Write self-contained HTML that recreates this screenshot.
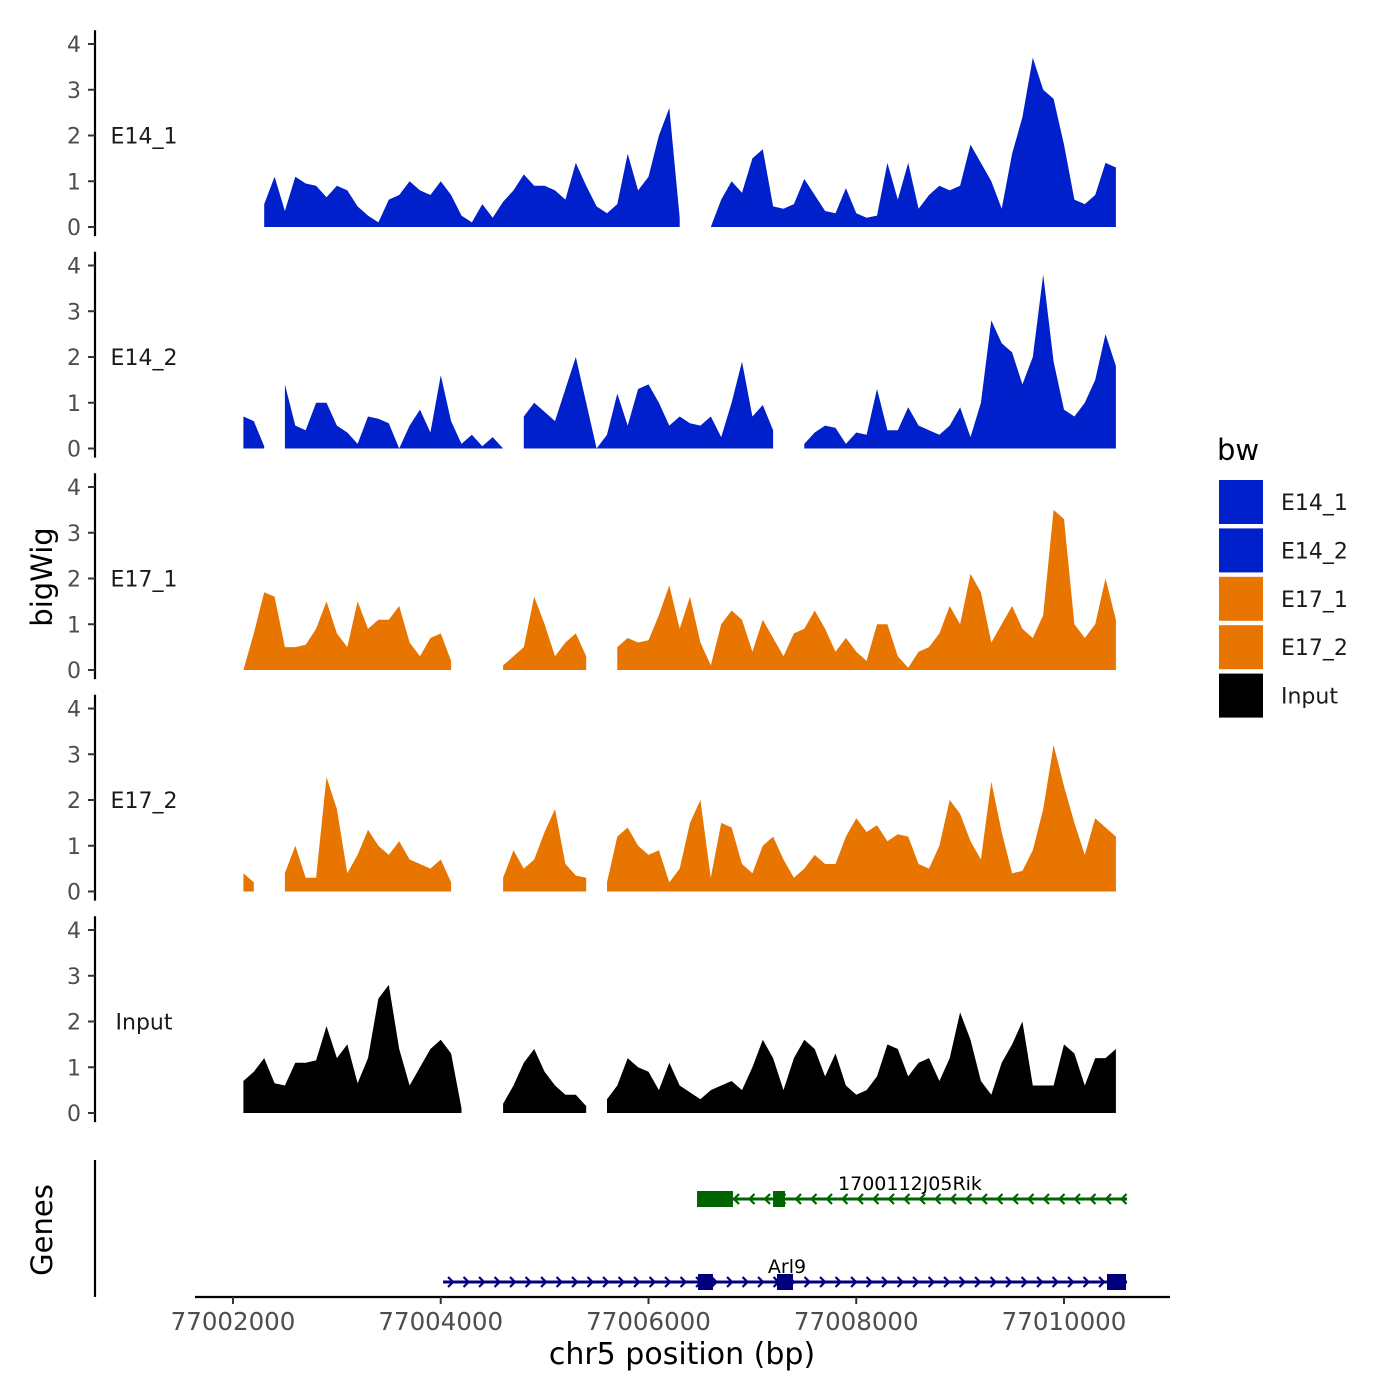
<!DOCTYPE html>
<html><head><meta charset="utf-8"><style>
body{margin:0;background:#fff}
svg{display:block;font-family:"DejaVu Sans","Liberation Sans",sans-serif}
</style></head><body>
<svg id="chart" width="1400" height="1400" viewBox="0 0 1400 1400" xmlns="http://www.w3.org/2000/svg"></svg>
<script>
const binStart = 77002100, binSize = 100;
const trackNames = ["E14_1","E14_2","E17_1","E17_2","Input"];
const trackColors = ["#0020CC","#0020CC","#E87500","#E87500","#000000"];
const yTicks = [0,1,2,3,4];
const xTicks = [77002000,77004000,77006000,77008000,77010000];
const N = null;
const E14_1 = [0.2,N,0.5,1.1,0.35,1.1,0.95,0.9,0.65,0.9,0.8,0.45,0.25,0.1,0.6,0.7,1.0,0.8,0.7,1.0,0.7,0.25,0.1,0.5,0.2,0.55,0.8,1.15,0.9,0.9,0.8,0.6,1.4,0.9,0.45,0.3,0.5,1.6,0.8,1.1,2.0,2.6,0.2,N,N,0.0,0.6,1.0,0.75,1.5,1.7,0.45,0.4,0.5,1.05,0.7,0.35,0.3,0.85,0.3,0.2,0.25,1.4,0.6,1.4,0.4,0.7,0.9,0.8,0.9,1.8,1.4,1.0,0.4,1.6,2.4,3.7,3.0,2.8,1.8,0.6,0.5,0.7,1.4,1.3];
const E14_2 = [0.7,0.6,0.05,N,1.4,0.5,0.4,1.0,1.0,0.5,0.35,0.1,0.7,0.65,0.55,0.0,0.5,0.85,0.35,1.6,0.6,0.1,0.3,0.05,0.25,0.0,N,0.7,1.0,0.8,0.6,1.3,2.0,1.0,0.0,0.3,1.2,0.5,1.3,1.4,1.0,0.5,0.7,0.55,0.5,0.7,0.25,1.0,1.9,0.7,0.95,0.4,N,N,0.1,0.35,0.5,0.45,0.1,0.35,0.3,1.3,0.4,0.4,0.9,0.5,0.4,0.3,0.5,0.9,0.25,1.0,2.8,2.3,2.1,1.4,2.0,3.8,1.9,0.85,0.7,1.0,1.5,2.5,1.8];
const E17_1 = [0.0,0.8,1.7,1.6,0.5,0.5,0.55,0.9,1.5,0.8,0.5,1.5,0.9,1.1,1.1,1.4,0.6,0.3,0.7,0.8,0.2,N,N,N,N,0.1,0.3,0.5,1.6,1.0,0.3,0.6,0.8,0.3,N,N,0.5,0.7,0.6,0.65,1.2,1.85,0.9,1.6,0.6,0.1,1.0,1.3,1.1,0.4,1.1,0.7,0.3,0.8,0.9,1.3,0.9,0.4,0.7,0.4,0.2,1.0,1.0,0.3,0.05,0.4,0.5,0.8,1.4,1.0,2.1,1.7,0.6,1.0,1.4,0.9,0.7,1.2,3.5,3.3,1.0,0.7,1.0,2.0,1.1];
const E17_2 = [0.4,0.2,N,N,0.4,1.0,0.3,0.3,2.5,1.8,0.4,0.8,1.35,1.0,0.8,1.1,0.7,0.6,0.5,0.7,0.2,N,N,N,N,0.3,0.9,0.5,0.7,1.3,1.8,0.6,0.35,0.3,N,0.2,1.2,1.4,1.0,0.8,0.9,0.2,0.5,1.5,2.0,0.3,1.5,1.4,0.6,0.4,1.0,1.2,0.7,0.3,0.5,0.8,0.6,0.6,1.2,1.6,1.3,1.45,1.1,1.25,1.2,0.6,0.5,1.0,2.0,1.7,1.1,0.7,2.4,1.3,0.4,0.45,0.9,1.8,3.2,2.3,1.5,0.8,1.6,1.4,1.2];
const Input = [0.7,0.9,1.2,0.65,0.6,1.1,1.1,1.15,1.9,1.2,1.5,0.65,1.2,2.5,2.8,1.4,0.6,1.0,1.4,1.6,1.3,0.1,N,N,N,0.2,0.6,1.1,1.4,0.9,0.6,0.4,0.4,0.15,N,0.3,0.6,1.2,1.0,0.9,0.5,1.1,0.6,0.45,0.3,0.5,0.6,0.7,0.5,1.0,1.6,1.2,0.5,1.2,1.6,1.4,0.8,1.3,0.6,0.4,0.5,0.8,1.5,1.4,0.8,1.1,1.2,0.7,1.2,2.2,1.6,0.7,0.4,1.1,1.5,2.0,0.6,0.6,0.6,1.5,1.3,0.6,1.2,1.2,1.4];
const trackValues = [E14_1,E14_2,E17_1,E17_2,Input];
const geneNames = ["1700112J05Rik","Arl9"];
const geneStarts = [77006467,77004022];
const geneEnds = [77010607,77010607];
const geneStrands = ["-","+"];
const geneExons = [[[77006467,77006813],[77007199,77007314]],[[77006477,77006621],[77007237,77007391],[77010414,77010597]]];
const legendLabels = ["E14_1","E14_2","E17_1","E17_2","Input"];

const svg = document.getElementById('chart');
const NS = "http://www.w3.org/2000/svg";
function mk(tag, attrs, parent){const e=document.createElementNS(NS,tag);for(const k in attrs)e.setAttribute(k,attrs[k]);(parent||svg).appendChild(e);return e;}
const xScale = bp => 233 + (bp - 77002000) * (831/8000);
const base0 = 227, trackStep = 221.5, unit = 45.75;
const yScale = (t,v) => base0 + t*trackStep - v*unit;

trackNames.forEach((name,t)=>{
  const g = mk('g',{});
  
  
  const vals = trackValues[t];
  let seg=[];
  const flush=()=>{
    if(seg.length>1){
      let d='M'+seg[0][0]+','+yScale(t,0);
      seg.forEach(p=>d+='L'+p[0]+','+p[1]);
      d+='L'+seg[seg.length-1][0]+','+yScale(t,0)+'Z';
      const p=mk('path',{d:d,fill:trackColors[t]},g);
      
      
    }
    seg=[];
  };
  vals.forEach((v,i)=>{
    if(v===null){flush();return;}
    seg.push([xScale(binStart+i*binSize).toFixed(1), yScale(t,v).toFixed(1)]);
  });
  flush();
  const ax=mk('line',{x1:95,x2:95,y1:yScale(t,4.3),y2:yScale(t,-0.2),stroke:'#000','stroke-width':2.2},g);
  
  
  yTicks.forEach(v=>{
    const y=yScale(t,v);
    mk('line',{x1:88,x2:95,y1:y,y2:y,stroke:'#333','stroke-width':2},g);
    const tx=mk('text',{x:81,y:y+8,'text-anchor':'end','font-size':22,fill:'#4d4d4d'},g);
    tx.textContent=v;
    
    
  });
  const lb=mk('text',{x:144,y:yScale(t,2)+8,'text-anchor':'middle','font-size':22,fill:'#1a1a1a'},g);
  lb.textContent=name;
  
  
});

const yt=mk('text',{x:0,y:0,transform:'translate(52,577) rotate(-90)','text-anchor':'middle','font-size':29});
yt.textContent='bigWig';


const gt=mk('text',{x:0,y:0,transform:'translate(52,1230) rotate(-90)','text-anchor':'middle','font-size':29});
gt.textContent='Genes';


mk('line',{x1:95,x2:95,y1:1160,y2:1297,stroke:'#000','stroke-width':2.2});

const geneColors=["#006400","#00007F"];
const geneY=[1199,1282];
geneNames.forEach((gn,i)=>{
  const g=mk('g',{});
  
  
  const x1=xScale(geneStarts[i]), x2=xScale(geneEnds[i]), y=geneY[i], c=geneColors[i];
  mk('line',{x1:x1,x2:x2,y1:y,y2:y,stroke:c,'stroke-width':3},g);
  for(let x=x1+8;x<x2;x+=15.5){
    const d = geneStrands[i]==='+' ? `M${x-3},${y-5}L${x+2},${y}L${x-3},${y+5}` : `M${x+3},${y-5}L${x-2},${y}L${x+3},${y+5}`;
    mk('path',{d:d,stroke:c,'stroke-width':2.2,fill:'none'},g);
  }
  geneExons[i].forEach(ex=>{
    const r=mk('rect',{x:xScale(ex[0]),y:y-8,width:xScale(ex[1])-xScale(ex[0]),height:16,fill:c},g);
    
    
  });
  const lx = i===0 ? 910 : 787;
  const t=mk('text',{x:lx,y:y-9,'text-anchor':'middle','font-size':19,fill:'#000'},g);
  t.textContent=gn;
  
  
});

const xa=mk('line',{x1:195,x2:1170,y1:1297,y2:1297,stroke:'#000','stroke-width':2.2});


xTicks.forEach(v=>{
  const x=xScale(v);
  mk('line',{x1:x,x2:x,y1:1297,y2:1304,stroke:'#333','stroke-width':2});
  const t=mk('text',{x:x,y:1330,'text-anchor':'middle','font-size':24.5,fill:'#4d4d4d'});
  t.textContent=v;
  
  
});
const xt=mk('text',{x:682,y:1364,'text-anchor':'middle','font-size':30});
xt.textContent='chr5 position (bp)';



const lg=mk('g',{});


const ltitle=mk('text',{x:1217,y:460,'font-size':29},lg);
ltitle.textContent='bw';


legendLabels.forEach((l,i)=>{
  const y=480+i*48.4;
  const r=mk('rect',{x:1219,y:y,width:44,height:44,fill:trackColors[i]},lg);
  
  
  const t=mk('text',{x:1281,y:y+30,'font-size':22,fill:'#1a1a1a'},lg);
  t.textContent=l;
  
  
});
</script>
</body></html>
